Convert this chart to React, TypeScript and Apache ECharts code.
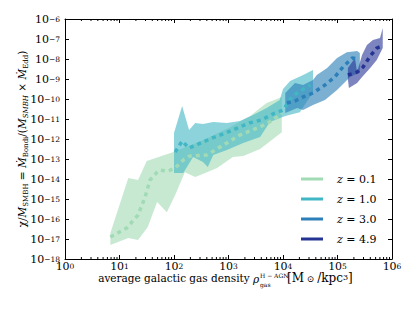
import React, { useEffect, useRef } from "react";
import * as echarts from "echarts";

// ---- data (x: gas density [Msun/kpc^3], y: chi/M_SMBH) ----
const z01Upper: [number, number][] = [
  [6.8, 2.0e-17], [14.5, 1.12e-14], [21.9, 8.9e-15], [31.6, 7.9e-14], [95, 2.2e-13],
  [316, 7.9e-13], [1000, 3.5e-12], [2510, 1.4e-11], [3800, 3.5e-11], [5000, 6.3e-11], [9500, 1.26e-10],
];
const z01Lower: [number, number][] = [
  [6.8, 5.0e-18], [14.5, 1.12e-17], [21.9, 8.9e-18], [33, 4.0e-17], [49, 7.1e-16], [74, 2.2e-16],
  [105, 1.6e-15], [158, 2.2e-14], [245, 1.26e-14], [372, 2.0e-14], [617, 3.5e-14], [1200, 1.26e-13],
  [1860, 1.4e-13], [3800, 3.2e-13], [9500, 2.2e-12],
];
const z01Median: [number, number][] = [
  [6.8, 1.26e-17], [13.5, 3.5e-17], [21.9, 1.58e-16], [29.5, 1.26e-15], [36.3, 8.9e-15], [49, 2.2e-14],
  [55, 2.8e-14], [78, 2.5e-14], [105, 3.5e-14], [148, 8.9e-14], [195, 1.4e-13], [398, 1.58e-13],
  [617, 3.2e-13], [933, 6.3e-13], [1620, 1.58e-12], [3800, 4.0e-12], [6600, 8.9e-12], [9500, 2.0e-11],
];

const z10Upper: [number, number][] = [
  [100, 2.0e-12], [141, 4.5e-11], [189, 2.8e-12], [245, 6.3e-12], [340, 5.6e-12], [525, 7.1e-12],
  [933, 6.3e-12], [1620, 7.9e-12], [2820, 1.58e-11], [5000, 3.5e-11], [8700, 8.9e-11], [10000, 3.2e-10],
  [13500, 7.9e-10], [23400, 1.58e-9], [35500, 2.8e-9],
];
const z10Lower: [number, number][] = [
  [100, 2.0e-14], [148, 2.0e-14], [224, 1.26e-13], [340, 7.1e-14], [417, 4.0e-14], [525, 1.58e-13],
  [933, 2.8e-13], [1860, 6.3e-13], [3800, 1.26e-12], [5750, 7.1e-12], [11000, 1.4e-11], [20400, 2.2e-11],
  [35500, 2.2e-10],
];
const z10Median: [number, number][] = [
  [105, 2.2e-13], [141, 7.9e-13], [189, 3.5e-13], [340, 7.1e-13], [562, 1.26e-12], [891, 2.0e-12],
  [1450, 3.5e-12], [2400, 6.3e-12], [4000, 8.9e-12], [6600, 1.8e-11], [10000, 2.8e-11], [14500, 1.26e-10],
  [20400, 2.5e-10], [31600, 5.0e-10],
];

const z30Upper: [number, number][] = [
  [11000, 2.0e-10], [13500, 3.5e-10], [16600, 6.3e-10], [23400, 5.0e-10], [35500, 8.9e-10], [41700, 1.58e-9],
  [64600, 3.5e-9], [98000, 1.12e-8], [148000, 2.2e-8], [229000, 2.5e-8], [257000, 2.0e-8],
];
const z30Lower: [number, number][] = [
  [11000, 2.0e-11], [18200, 3.5e-11], [23400, 2.8e-11], [35500, 5.0e-11], [58900, 8.9e-11],
  [98000, 2.8e-10], [170000, 1.26e-9], [257000, 2.2e-9],
];
const z30Median: [number, number][] = [
  [11800, 6.3e-11], [16600, 7.9e-11], [23400, 1.26e-10], [35500, 2.0e-10], [58900, 5.0e-10],
  [89000, 1.26e-9], [126000, 4.0e-9], [186000, 1.12e-8], [240000, 1.0e-8],
];

const z49Upper: [number, number][] = [
  [155000, 3.5e-9], [209000, 1.12e-8], [229000, 2.2e-9], [282000, 1.58e-8], [347000, 5.0e-8],
  [447000, 8.9e-8], [603000, 1.12e-7], [676000, 3.5e-7],
];
const z49Lower: [number, number][] = [
  [155000, 1.0e-9], [162000, 3.5e-10], [229000, 6.3e-10], [282000, 1.26e-9], [398000, 3.5e-9],
  [525000, 8.9e-9], [676000, 3.5e-8],
];
const z49Median: [number, number][] = [
  [155000, 1.58e-9], [229000, 2.2e-9], [295000, 4.0e-9], [398000, 1.4e-8], [525000, 3.5e-8], [660000, 4.5e-8],
];

const legendLabels = ["0.1", "1.0", "3.0", "4.9"];
const seriesColors = ["#a1dab4", "#41b6c4", "#2c7fb8", "#253494"];
const xMinorTicks: number[] = [];
for (let e = 0; e < 6; e++) for (let k = 2; k <= 9; k++) xMinorTicks.push(k * Math.pow(10, e));

const FONT = "DejaVu Serif";

function band(upper: [number, number][], lower: [number, number][], color: string, opacity: number) {
  const pts = [...upper, ...lower.slice().reverse()];
  return {
    type: "custom",
    xAxisIndex: 0,
    yAxisIndex: 0,
    silent: true,
    z: 1,
    data: pts,
    renderItem: (params: any, api: any) => {
      if (params.dataIndex !== 0) return null;
      return {
        type: "polygon",
        shape: { points: pts.map((p) => api.coord(p)) },
        style: { fill: color, opacity, stroke: null },
      };
    },
  };
}

function median(data: [number, number][], color: string) {
  return {
    type: "line",
    xAxisIndex: 0,
    yAxisIndex: 0,
    data,
    symbol: "none",
    silent: true,
    z: 5,
    lineStyle: { color, width: 3.5, type: [4, 4], cap: "butt" },
  };
}

const labelRich = {
  b: { fontFamily: FONT, fontSize: 11, color: "#000", lineHeight: 8 },
  s: { fontFamily: FONT, fontSize: 7.5, color: "#000", lineHeight: 0, verticalAlign: "top" },
};
const fmt = (v: number) => {
  const e = Math.round(Math.log10(v));
  return `{b|10}{s|${e < 0 ? "−" + -e : e}}`;
};

export default function App() {
  const ref = useRef<HTMLDivElement>(null);
  useEffect(() => {
    if (!ref.current) return;
    const chart = echarts.init(ref.current, null, { renderer: "svg" });
    const axisCommon = {
      type: "log",
      logBase: 10,
      interval: 1,
      splitLine: { show: false },
      axisLine: { show: true, lineStyle: { color: "#000", width: 1 } },
      axisTick: { show: true, inside: true, length: 4, interval: 0, lineStyle: { color: "#000" } },
    };
    const minorSeries = {
      type: "custom",
      xAxisIndex: 0,
      yAxisIndex: 0,
      silent: true,
      z: 10,
      data: xMinorTicks.map((v) => [v, 1e-18]),
      renderItem: (params: any, api: any) => {
        const v = api.value(0);
        const b = api.coord([v, 1e-18]);
        const t = api.coord([v, 1e-6]);
        return {
          type: "group",
          children: [
            { type: "line", shape: { x1: b[0], y1: b[1], x2: b[0], y2: b[1] - 2 }, style: { stroke: "#000", lineWidth: 1 } },
            { type: "line", shape: { x1: t[0], y1: t[1], x2: t[0], y2: t[1] + 2 }, style: { stroke: "#000", lineWidth: 1 } },
          ],
        };
      },
    };
    const graphics: any[] = [
      {
        type: "text",
        x: 22,
        y: 139,
        rotation: Math.PI / 2,
        style: {
          text:
            "{n|χ/}{i|M}{sub|SMBH}{n| = }{i|Ṁ}{sub|Bondi}{n|/(}{i|M}{subi|SMBH}{n| × }{i|Ṁ}{sub|Edd}{n|)}",
          align: "center",
          verticalAlign: "middle",
          rich: {
            n: { fontFamily: FONT, fontSize: 10.5, lineHeight: 14, fill: "#000" },
            i: { fontFamily: FONT, fontSize: 10.5, lineHeight: 14, fontStyle: "italic", fill: "#000" },
            sub: { fontFamily: FONT, fontSize: 7, lineHeight: 7, verticalAlign: "bottom", fill: "#000" },
            subi: { fontFamily: FONT, fontSize: 7, lineHeight: 7, verticalAlign: "bottom", fontStyle: "italic", fill: "#000" },
          },
        },
      },
      {
        type: "text",
        x: 253,
        y: 278,
        style: {
          text: "average galactic gas density ",
          align: "right",
          verticalAlign: "middle",
          font: `10.5px "${FONT}"`,
          fill: "#000",
        },
      },
      {
        type: "text",
        x: 253,
        y: 279,
        style: { text: "ρ", align: "left", verticalAlign: "middle", font: `italic 10.5px "${FONT}"`, fill: "#000" },
      },
      {
        type: "text",
        x: 260,
        y: 275,
        style: { text: "H − AGN", align: "left", verticalAlign: "middle", font: `6px "${FONT}"`, fill: "#000" },
      },
      {
        type: "text",
        x: 260,
        y: 284,
        style: { text: "gas", align: "left", verticalAlign: "middle", font: `6px "${FONT}"`, fill: "#000" },
      },
      {
        type: "text",
        x: 287,
        y: 278,
        style: {
          text: "{n|[M}{sub| ⊙ }{n|/kpc}{sup|3}{n|]}",
          align: "left",
          verticalAlign: "middle",
          rich: {
            n: { fontFamily: FONT, fontSize: 12, lineHeight: 10, fill: "#000" },
            sub: { fontFamily: FONT, fontSize: 9, lineHeight: 4, verticalAlign: "bottom", fill: "#000" },
            sup: { fontFamily: FONT, fontSize: 8, lineHeight: 1.5, verticalAlign: "top", fill: "#000" },
          },
        },
      },
    ];
    legendLabels.forEach((lab, i) => {
      const y = 179 + i * 20;
      graphics.push({
        type: "line",
        shape: { x1: 301, y1: y, x2: 323, y2: y },
        style: { stroke: seriesColors[i], lineWidth: 3 },
      });
      graphics.push({
        type: "text",
        x: 337,
        y,
        style: {
          text: `{i|z}{n| = ${lab}}`,
          align: "left",
          verticalAlign: "middle",
          rich: {
            i: { fontFamily: FONT, fontSize: 11, fontStyle: "italic", fill: "#000" },
            n: { fontFamily: FONT, fontSize: 11, fill: "#000" },
          },
        },
      });
    });

    chart.setOption({
      animation: false,
      backgroundColor: "#fff",
      grid: { left: 65, top: 19, width: 327, height: 240, containLabel: false },
      xAxis: [
        {
          ...axisCommon,
          position: "bottom",
          min: 1,
          max: 1e6,
          axisLabel: { formatter: fmt, rich: labelRich, margin: 3, interval: 0, showMinLabel: true, showMaxLabel: true, hideOverlap: false },
        },
        { ...axisCommon, position: "top", min: 1, max: 1e6, axisLabel: { show: false } },
      ],
      yAxis: [
        {
          ...axisCommon,
          position: "left",
          min: 1e-18,
          max: 1e-6,
          axisLabel: { formatter: fmt, rich: labelRich, margin: 5, interval: 0, showMinLabel: true, showMaxLabel: true, hideOverlap: false },
        },
        { ...axisCommon, position: "right", min: 1e-18, max: 1e-6, axisLabel: { show: false } },
      ],
      series: [
        band(z01Upper, z01Lower, seriesColors[0], 0.6),
        band(z10Upper, z10Lower, seriesColors[1], 0.6),
        band(z30Upper, z30Lower, seriesColors[2], 0.62),
        band(z49Upper, z49Lower, seriesColors[3], 0.6),
        median(z01Median, seriesColors[0]),
        median(z10Median, seriesColors[1]),
        median(z30Median, seriesColors[2]),
        median(z49Median, seriesColors[3]),
        minorSeries,
      ],
      graphic: graphics,
    });
    return () => chart.dispose();
  }, []);
  return <div ref={ref} style={{ position: "fixed", left: 0, top: 0, width: 415, height: 312 }} />;
}
